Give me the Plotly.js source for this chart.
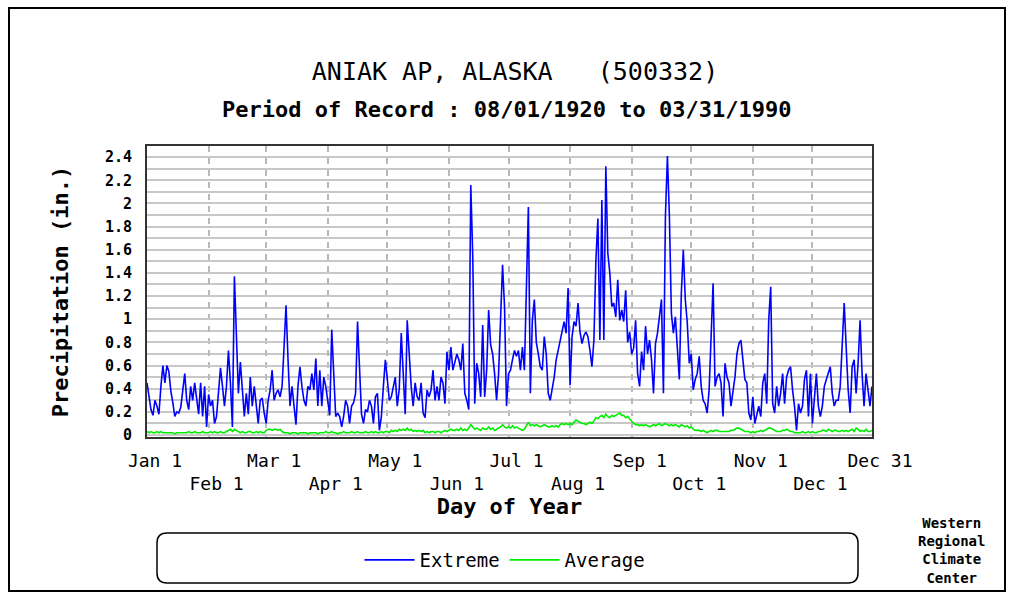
<!DOCTYPE html>
<html>
<head>
<meta charset="utf-8">
<script src="https://cdn.plot.ly/plotly-3.0.1.min.js"></script>
<style>
  html, body { margin: 0; padding: 0; background: #ffffff; }
  #chart { width: 1016px; height: 607px; }
</style>
</head>
<body>
<div id="chart"></div>
<script>
// Day of year (leap-year calendar, 366 days)
const days = Array.from({length: 366}, (_, i) => i + 1);

// Extreme daily precipitation (in.)
const extreme = [
  0.45,0.33,0.22,0.17,0.30,0.25,0.18,0.42,0.60,0.45,
  0.60,0.55,0.38,0.28,0.16,0.20,0.19,0.24,0.38,0.53,
  0.30,0.22,0.42,0.30,0.45,0.32,0.18,0.45,0.16,0.42,
  0.07,0.35,0.25,0.30,0.10,0.16,0.40,0.58,0.42,0.25,
  0.42,0.73,0.45,0.07,1.37,0.91,0.36,0.63,0.40,0.16,
  0.36,0.18,0.50,0.25,0.42,0.27,0.10,0.30,0.32,0.19,
  0.10,0.30,0.39,0.56,0.30,0.36,0.39,0.33,0.42,0.76,
  1.12,0.65,0.25,0.42,0.25,0.09,0.42,0.59,0.42,0.30,
  0.25,0.42,0.39,0.53,0.39,0.66,0.25,0.56,0.25,0.50,
  0.42,0.30,0.17,0.91,0.56,0.16,0.19,0.16,0.07,0.16,
  0.30,0.25,0.10,0.25,0.28,0.36,0.98,0.56,0.18,0.10,
  0.22,0.20,0.30,0.25,0.10,0.33,0.36,0.04,0.16,0.42,
  0.65,0.48,0.30,0.33,0.42,0.50,0.25,0.40,0.88,0.56,
  0.18,0.99,0.65,0.42,0.25,0.45,0.33,0.30,0.45,0.19,
  0.15,0.39,0.33,0.39,0.56,0.30,0.42,0.30,0.50,0.45,
  0.27,0.72,0.56,0.76,0.56,0.62,0.70,0.65,0.56,0.79,
  0.36,0.30,0.22,2.16,1.55,0.27,0.62,0.53,0.33,0.95,
  0.33,0.56,1.08,0.78,0.70,0.53,0.30,0.53,1.04,1.47,
  1.11,0.25,0.53,0.56,0.65,0.73,0.68,0.73,0.56,0.76,
  0.56,1.25,1.97,0.36,0.99,1.17,0.80,0.70,0.59,0.56,
  0.85,0.70,0.36,0.30,0.39,0.50,0.65,0.73,0.82,0.88,
  0.98,0.88,1.27,0.43,0.85,0.98,0.94,1.14,0.89,0.79,
  0.86,0.89,0.85,0.73,0.59,0.82,1.51,1.87,0.82,2.03,
  0.82,2.32,1.57,1.40,1.11,1.14,1.02,1.34,0.99,1.08,
  0.98,1.25,0.80,0.89,0.70,0.75,0.99,0.53,0.42,0.72,
  0.56,0.94,0.70,0.82,0.65,0.36,0.79,0.88,1.05,1.17,
  0.36,1.89,2.41,1.89,1.05,0.88,1.02,0.79,0.48,1.22,
  1.60,1.17,0.97,0.62,0.70,0.39,0.48,0.53,0.68,0.42,
  0.30,0.27,0.19,0.39,0.82,1.31,0.42,0.50,0.53,0.45,
  0.16,0.62,0.50,0.45,0.25,0.39,0.50,0.70,0.79,0.82,
  0.62,0.48,0.45,0.19,0.13,0.33,0.10,0.19,0.25,0.16,
  0.45,0.53,0.27,0.99,1.28,0.27,0.19,0.42,0.25,0.36,
  0.53,0.27,0.50,0.56,0.59,0.39,0.25,0.04,0.27,0.19,
  0.25,0.48,0.56,0.16,0.53,0.10,0.36,0.53,0.25,0.16,
  0.25,0.42,0.48,0.53,0.59,0.36,0.25,0.30,0.30,0.42,
  0.85,1.14,0.76,0.39,0.19,0.59,0.65,0.36,0.62,0.99,
  0.53,0.25,0.53,0.36,0.25,0.42
];

// Average daily precipitation (in.)
const average = [
  0.03,0.02,0.03,0.02,0.02,0.03,0.02,0.03,0.02,0.02,
  0.02,0.02,0.02,0.02,0.01,0.02,0.02,0.02,0.02,0.02,
  0.02,0.03,0.02,0.02,0.03,0.02,0.02,0.02,0.03,0.02,
  0.02,0.02,0.03,0.02,0.03,0.02,0.02,0.03,0.02,0.02,
  0.03,0.04,0.05,0.03,0.05,0.04,0.03,0.02,0.03,0.02,
  0.02,0.03,0.03,0.02,0.02,0.03,0.02,0.03,0.02,0.02,
  0.04,0.05,0.05,0.04,0.05,0.05,0.04,0.05,0.03,0.02,
  0.02,0.02,0.01,0.02,0.02,0.02,0.01,0.02,0.02,0.02,
  0.02,0.01,0.02,0.02,0.02,0.02,0.01,0.02,0.02,0.02,
  0.03,0.02,0.02,0.03,0.02,0.02,0.01,0.02,0.02,0.03,
  0.02,0.02,0.02,0.03,0.02,0.02,0.03,0.02,0.02,0.02,
  0.03,0.02,0.02,0.03,0.02,0.03,0.02,0.02,0.03,0.02,
  0.03,0.03,0.02,0.04,0.03,0.04,0.03,0.05,0.04,0.05,
  0.04,0.06,0.04,0.05,0.03,0.04,0.03,0.04,0.03,0.04,
  0.02,0.03,0.02,0.03,0.03,0.02,0.03,0.03,0.02,0.03,
  0.04,0.03,0.04,0.05,0.04,0.04,0.05,0.04,0.06,0.04,
  0.05,0.04,0.06,0.09,0.07,0.05,0.06,0.05,0.04,0.06,
  0.05,0.05,0.07,0.05,0.06,0.04,0.05,0.06,0.07,0.09,
  0.07,0.06,0.07,0.06,0.08,0.06,0.07,0.06,0.05,0.04,
  0.05,0.08,0.11,0.08,0.09,0.08,0.09,0.08,0.07,0.08,
  0.09,0.08,0.07,0.07,0.08,0.07,0.08,0.07,0.09,0.10,
  0.09,0.10,0.09,0.10,0.09,0.11,0.13,0.12,0.11,0.10,
  0.10,0.09,0.10,0.11,0.10,0.12,0.15,0.14,0.16,0.17,
  0.15,0.18,0.16,0.15,0.17,0.16,0.17,0.18,0.19,0.17,
  0.17,0.15,0.16,0.14,0.12,0.10,0.09,0.09,0.08,0.09,
  0.08,0.09,0.08,0.07,0.08,0.09,0.08,0.09,0.10,0.08,
  0.09,0.10,0.09,0.08,0.09,0.08,0.09,0.08,0.07,0.09,
  0.08,0.07,0.08,0.06,0.07,0.05,0.04,0.04,0.04,0.03,
  0.04,0.03,0.02,0.03,0.04,0.03,0.04,0.04,0.03,0.03,
  0.03,0.03,0.03,0.03,0.04,0.04,0.05,0.06,0.06,0.05,
  0.04,0.03,0.03,0.03,0.02,0.03,0.02,0.03,0.03,0.04,
  0.03,0.04,0.05,0.06,0.06,0.05,0.04,0.03,0.03,0.03,
  0.04,0.04,0.05,0.04,0.03,0.03,0.02,0.02,0.02,0.02,
  0.03,0.02,0.02,0.03,0.02,0.03,0.02,0.02,0.03,0.03,
  0.04,0.04,0.03,0.05,0.04,0.03,0.04,0.04,0.03,0.03,
  0.04,0.03,0.04,0.03,0.04,0.05,0.03,0.06,0.05,0.03,
  0.04,0.03,0.05,0.03,0.03,0.04
];

// X tick positions (day of year) and labels (alternating rows)
const monthTickDays = [1, 32, 61, 92, 122, 153, 183, 214, 245, 275, 306, 336, 366];
const monthTickLabels = ["Jan 1", "<br>Feb 1", "Mar 1", "<br>Apr 1", "May 1", "<br>Jun 1",
  "Jul 1", "<br>Aug 1", "Sep 1", "<br>Oct 1", "Nov 1", "<br>Dec 1", "Dec 31"];

// Y ticks
const yTickVals = [0, 0.2, 0.4, 0.6, 0.8, 1, 1.2, 1.4, 1.6, 1.8, 2, 2.2, 2.4];
const yTickText = ["0", "0.2", "0.4", "0.6", "0.8", "1", "1.2", "1.4", "1.6", "1.8", "2", "2.2", "2.4"];
const yMinorGrid = [0.1, 0.3, 0.5, 0.7, 0.9, 1.1, 1.3, 1.5, 1.7, 1.9, 2.1, 2.3, 2.5];

const seriesNames = ["Extreme", "Average"];
const seriesColors = ["#0000ff", "#00ee00"];

const titleText = "ANIAK AP, ALASKA\u00a0\u00a0\u00a0(500332)";
const subtitleText = "Period of Record : 08/01/1920 to 03/31/1990";
const creditText = "Western<br>Regional<br>Climate<br>Center";

// Layout geometry (pixels)
const W = 1016, H = 607;
const L = 147, R = 872, T = 146, B = 437;
const xp = X => (X - L) / (R - L);
const yp = Y => (B - Y) / (B - T);

const MONO = '"DejaVu Sans Mono", "Liberation Mono", monospace';

const traces = [
  { x: days, y: extreme, type: 'scatter', mode: 'lines', name: seriesNames[0],
    line: { color: seriesColors[0], width: 1.6 } },
  { x: days, y: average, type: 'scatter', mode: 'lines', name: seriesNames[1],
    line: { color: seriesColors[1], width: 1.6 } }
];

// rounded legend frame
function roundRect(x0, y0, x1, y1, r) {
  const X0 = xp(x0), X1 = xp(x1), Y0 = yp(y0), Y1 = yp(y1);
  const rx = r / (R - L), ry = r / (B - T);
  return `M ${X0 + rx},${Y0} L ${X1 - rx},${Y0} Q ${X1},${Y0} ${X1},${Y0 - ry} ` +
         `L ${X1},${Y1 + ry} Q ${X1},${Y1} ${X1 - rx},${Y1} L ${X0 + rx},${Y1} ` +
         `Q ${X0},${Y1} ${X0},${Y1 + ry} L ${X0},${Y0 - ry} Q ${X0},${Y0} ${X0 + rx},${Y0} Z`;
}

const layout = {
  width: W, height: H,
  margin: { l: L, r: W - R, t: T, b: H - B, pad: 0 },
  paper_bgcolor: '#ffffff',
  plot_bgcolor: '#ffffff',
  showlegend: true,
  title: {
    text: titleText,
    font: { family: MONO, size: 25, color: '#000000' },
    x: xp(515), xref: 'paper', xanchor: 'center',
    y: 1 - 71 / H, yref: 'container', yanchor: 'middle'
  },
  xaxis: {
    range: [1, 366],
    tickmode: 'array',
    tickvals: monthTickDays,
    ticktext: monthTickLabels,
    tickangle: 0,
    tickfont: { family: MONO, size: 18, color: '#000000' },
    ticks: '', ticklabelstandoff: 6, ticklabelshift: 8,
    showgrid: true, gridcolor: '#b8b8b8', gridwidth: 2, griddash: '6px,6px',
    showline: true, mirror: true, linecolor: '#333333', linewidth: 2,
    zeroline: false, fixedrange: true, automargin: false,
    title: { text: '<b>Day of Year</b>', font: { family: MONO, size: 22, color: '#000000' }, standoff: 4 }
  },
  yaxis: {
    range: [-0.017, 2.496],
    tickmode: 'array',
    tickvals: yTickVals,
    ticktext: yTickText,
    tickfont: { family: MONO, size: 15, color: '#000000', weight: 'bold' },
    ticks: '', ticklabelstandoff: 10,
    showgrid: true, gridcolor: '#c8c8c8', gridwidth: 2,
    minor: { tickvals: yMinorGrid, showgrid: true, gridcolor: '#c8c8c8', gridwidth: 2, ticks: '' },
    showline: true, mirror: true, linecolor: '#333333', linewidth: 2,
    zeroline: false, fixedrange: true, automargin: false,
    title: { text: '<b>Precipitation (in.)</b>', font: { family: MONO, size: 22, color: '#000000' }, standoff: 30 }
  },
  legend: {
    orientation: 'h',
    x: xp(505), xanchor: 'center',
    y: yp(560), yanchor: 'middle',
    font: { family: MONO, size: 19, color: '#000000' },
    bgcolor: 'rgba(0,0,0,0)', borderwidth: 0,
    itemwidth: 50
  },
  annotations: [
    { text: '<b>' + subtitleText + '</b>', xref: 'paper', yref: 'paper',
      x: xp(507), y: yp(109), xanchor: 'center', yanchor: 'middle', showarrow: false,
      font: { family: MONO, size: 22, color: '#000000' } },
    { text: '<b>' + creditText + '</b>', xref: 'paper', yref: 'paper',
      x: xp(951), y: yp(550), xanchor: 'center', yanchor: 'middle', showarrow: false,
      align: 'center',
      font: { family: MONO, size: 14, color: '#000000' } }
  ],
  shapes: [
    { type: 'rect', xref: 'paper', yref: 'paper',
      x0: xp(9), x1: xp(1005), y0: yp(591), y1: yp(8),
      line: { color: '#000000', width: 2 }, fillcolor: 'rgba(0,0,0,0)' },
    { type: 'path', xref: 'paper', yref: 'paper',
      path: roundRect(157, 533, 858, 583, 10),
      line: { color: '#000000', width: 1.5 }, fillcolor: 'rgba(0,0,0,0)' }
  ]
};

Plotly.newPlot('chart', traces, layout, { displayModeBar: false, staticPlot: true });
</script>
</body>
</html>
